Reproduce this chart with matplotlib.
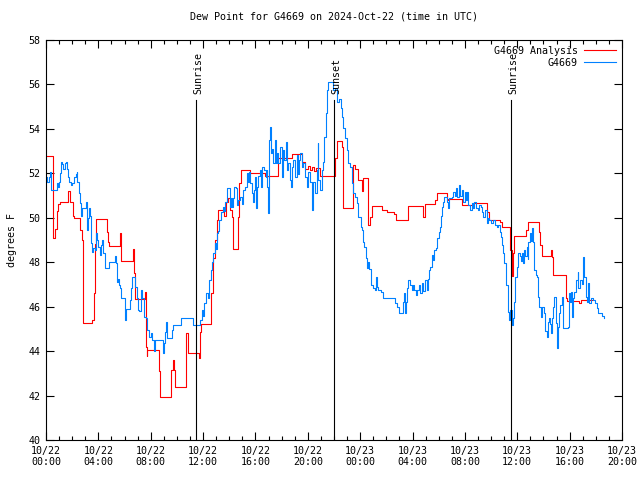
import matplotlib
matplotlib.use("Agg")
import matplotlib.pyplot as plt
from matplotlib.ticker import MultipleLocator

# hours since 2024-10-22 00:00 UTC
analysis_hours = [
    0.00, 0.50, 0.57, 0.69, 0.84, 0.92, 1.07, 1.68, 1.83, 2.06, 2.14, 2.60, 2.75,
    2.85, 3.54, 3.67, 3.72, 3.80, 4.64, 4.74, 4.81, 5.65, 5.75, 6.65, 6.72, 6.78,
    7.54, 7.62, 7.69, 7.74, 8.63, 8.71, 9.55, 9.70, 9.78, 9.85, 10.69, 10.85,
    11.69, 11.76, 11.82, 12.60, 12.73, 12.91, 13.04, 13.16, 13.60, 13.75, 13.93,
    14.06, 14.19, 14.26, 14.31, 14.69, 14.77, 14.87, 15.62, 16.73, 17.72, 18.79,
    19.56, 19.78, 20.01, 20.17, 20.32, 20.47, 20.63, 20.93, 22.08, 22.21, 22.61,
    22.69, 23.45, 23.60, 23.83, 24.14, 24.25, 24.60, 24.75, 24.88, 25.67, 26.03,
    26.58, 26.71, 27.68, 28.78, 28.95, 29.72, 29.89, 30.65, 30.73, 31.80, 32.64,
    33.66, 33.84, 34.68, 34.81, 35.48, 35.57, 35.70, 35.75, 36.64, 36.84, 37.66,
    37.74, 37.87, 38.55, 38.68, 38.71, 39.70, 39.78, 40.72, 40.87, 41.71,
]
analysis_dewpt = [
    52.78, 50.0, 49.1, 49.5, 50.3, 50.6, 50.7, 51.2, 50.7, 50.1, 50.0, 49.45, 49.0,
    45.26, 45.4, 46.6, 48.8, 49.95, 49.35, 48.9, 48.75, 49.3, 48.05, 48.6, 47.5, 46.35,
    46.65, 44.2, 43.8, 44.05, 43.1, 41.95, 43.15, 43.6, 43.15, 42.4, 44.8, 43.9,
    43.7, 44.85, 45.2, 46.6, 48.2, 49.0, 49.9, 50.35, 50.1, 50.7, 50.9,
    50.35, 50.05, 49.45, 48.6, 50.05, 51.55, 52.15, 52.0, 51.87, 52.67, 52.87,
    52.5, 52.2, 52.35, 52.15, 52.3, 52.1, 52.25, 51.9, 52.7, 53.47, 53.2,
    50.42, 52.37, 52.2, 51.7, 51.2, 51.8, 49.67, 50.05, 50.54, 50.35, 50.27,
    50.17, 49.9, 50.54, 50.05, 50.6, 50.8, 51.1, 50.8, 50.85, 50.57, 50.65,
    50.27, 49.9, 49.8, 49.6, 48.55, 47.4, 48.4, 49.2, 49.45, 49.82, 49.37,
    48.77, 48.28, 48.55, 48.25, 47.42, 46.37, 46.25, 46.18, 46.3, 46.3,
]

obs_hours = [
    0.05, 0.11, 0.23, 0.31, 0.40, 0.82, 0.92, 0.99, 1.07, 1.17, 1.25, 1.32, 1.43,
    1.50, 1.58, 1.68, 1.76, 1.89, 2.01, 2.14, 2.27, 2.35, 2.39, 2.50, 2.60, 2.65,
    2.77, 3.03, 3.11, 3.15, 3.21, 3.28, 3.36, 3.41, 3.49, 3.61, 3.72, 3.80, 3.87,
    3.97, 4.13, 4.22, 4.30, 4.38, 4.48, 4.81, 5.25, 5.32, 5.40, 5.50, 5.58, 5.65,
    5.75, 6.01, 6.09, 6.42, 6.52, 6.59, 6.78, 6.93, 7.03, 7.10, 7.23, 7.36, 7.49,
    7.62, 7.74, 7.87, 8.00, 8.12, 8.25, 8.33, 8.91, 9.01, 9.09, 9.17, 9.27, 9.60,
    9.72, 10.29, 11.21, 11.76, 11.89, 11.97, 12.07, 12.22, 12.34, 12.47, 12.58,
    12.66, 12.78, 12.91, 12.99, 13.09, 13.16, 13.24, 13.35, 13.50, 13.60, 13.67,
    13.80, 14.06, 14.13, 14.21, 14.26, 14.36, 14.51, 14.61, 14.69, 14.82, 14.95,
    15.07, 15.20, 15.33, 15.41, 15.48, 15.58, 15.71, 15.79, 15.89, 15.97, 16.04,
    16.10, 16.22, 16.35, 16.42, 16.52, 16.65, 16.78, 16.86, 16.92, 16.98, 17.04,
    17.11, 17.19, 17.26, 17.36, 17.49, 17.57, 17.62, 17.75, 17.88, 18.00, 18.13,
    18.20, 18.31, 18.39, 18.51, 18.64, 18.72, 18.82, 18.89, 19.02, 19.15, 19.23,
    19.33, 19.40, 19.53, 19.66, 19.78, 19.92, 20.04, 20.17, 20.30, 20.34, 20.42,
    20.55, 20.68, 20.76, 20.80, 20.93, 21.06, 21.18, 21.26, 21.37, 21.44, 21.52,
    21.87, 21.95, 22.08, 22.21, 22.38, 22.54, 22.63, 22.71, 22.84, 22.97, 23.09,
    23.22, 23.35, 23.47, 23.60, 23.73, 23.86, 24.06, 24.12, 24.19, 24.29, 24.45,
    24.54, 24.62, 24.70, 24.80, 24.96, 25.13, 25.21, 25.31, 25.39, 25.57, 25.72,
    26.66, 26.84, 26.99, 27.25, 27.35, 27.42, 27.50, 27.60, 27.68, 27.81, 27.94,
    28.01, 28.11, 28.26, 28.36, 28.47, 28.57, 28.70, 28.82, 28.95, 29.08, 29.16,
    29.23, 29.33, 29.46, 29.54, 29.64, 29.79, 29.89, 30.04, 30.10, 30.15, 30.23,
    30.30, 30.40, 30.66, 30.73, 30.81, 30.99, 31.11, 31.22, 31.32, 31.42, 31.53,
    31.63, 31.76, 31.88, 32.01, 32.08, 32.18, 32.21, 32.39, 32.52, 32.64, 32.72,
    32.83, 32.98, 33.08, 33.23, 33.33, 33.41, 33.54, 33.66, 33.74, 33.84, 33.99,
    34.17, 34.30, 34.43, 34.55, 34.68, 34.76, 34.81, 34.93, 35.01, 35.12, 35.16,
    35.27, 35.32, 35.39, 35.47, 35.58, 35.65, 35.73, 35.83, 35.96, 36.08, 36.21,
    36.29, 36.39, 36.46, 36.54, 36.61, 36.72, 36.80, 36.84, 36.97, 37.05, 37.10,
    37.18, 37.22, 37.30, 37.41, 37.51, 37.61, 37.66, 37.81, 37.91, 38.02, 38.12,
    38.25, 38.33, 38.43, 38.50, 38.58, 38.68, 38.75, 38.83, 38.94, 39.01, 39.09,
    39.19, 39.26, 39.39, 39.52, 39.85, 39.95, 40.03, 40.10, 40.20, 40.28, 40.36,
    40.46, 40.62, 40.66, 40.79, 40.92, 41.04, 41.12, 41.23, 41.33, 41.43, 41.51,
    41.63, 41.81, 41.94, 42.07, 42.19, 42.45, 42.65,
]
obs_dewpt = [
    51.85, 51.6, 51.85, 52.07, 51.25, 51.55, 51.4, 51.6, 52.0, 52.52, 52.4, 52.2, 52.45,
    52.5, 52.2, 51.85, 51.6, 51.47, 51.55, 51.85, 51.95, 52.07, 51.6, 51.1, 50.65, 50.1,
    50.42, 50.73, 50.42, 49.45, 50.0, 50.42, 50.1, 48.85, 48.47, 48.65, 48.55, 49.3, 49.0,
    48.7, 48.33, 48.78, 49.0, 48.4, 47.72, 48.02, 48.3, 47.95, 47.12, 47.25, 46.97, 46.82,
    46.37, 45.4, 45.9, 46.3, 46.82, 47.35, 46.9, 46.37, 45.85, 45.8, 46.75, 46.37, 45.55,
    45.47, 44.95, 44.65, 44.8, 44.5, 44.0, 44.5, 43.9, 44.35, 44.87, 45.32, 44.57, 44.95,
    45.17, 45.47, 45.17, 45.4, 45.85, 45.6, 46.15, 46.6, 46.4, 47.2, 47.65,
    48.02, 48.4, 48.85, 48.6, 49.3, 49.4, 49.9, 50.27, 50.5, 50.3, 50.73,
    51.33, 50.5, 50.87, 50.5, 50.87, 51.4, 51.35, 50.57, 50.8, 50.95, 50.6,
    51.25, 51.4, 52.0, 51.6, 52.07, 51.55, 51.1, 50.73, 51.25, 51.85, 50.42,
    51.4, 51.9, 52.15, 51.4, 52.3, 52.15, 51.85, 52.15, 51.4, 50.2, 53.5,
    54.1, 52.9, 53.1, 52.45, 53.5, 52.45, 52.9, 52.45, 53.2, 51.85, 53.05,
    52.6, 53.42, 52.15, 52.45, 51.7, 51.4, 52.3, 52.6, 51.85, 52.82, 51.95,
    52.6, 52.9, 52.3, 52.45, 51.85, 51.4, 52.05, 51.6, 50.95, 50.35, 51.6,
    51.1, 52.15, 53.35, 51.7, 51.25, 52.15, 52.5, 53.65, 54.7, 55.75, 56.12,
    56.12, 55.75, 55.82, 55.22, 55.35, 54.92, 54.55, 54.03, 53.58, 53.05, 52.45,
    52.3, 51.55, 51.1, 50.95, 50.65, 50.05, 49.6, 49.45, 48.92, 48.7, 48.17,
    47.72, 48.0, 47.7, 46.97, 46.82, 46.75, 47.35, 46.9, 46.75, 46.67, 46.37,
    46.15, 45.97, 45.7, 46.22, 46.6, 45.7, 46.2, 46.82, 47.2, 46.97, 46.75,
    46.97, 46.75, 46.52, 46.75, 46.97, 46.62, 47.07, 46.7, 47.2, 46.75, 47.25,
    47.65, 47.8, 48.33, 48.1, 48.55, 48.62, 49.07, 49.37, 49.6, 50.1, 50.5,
    50.73, 50.95, 50.73, 50.42, 50.87, 50.95, 51.17, 51.0, 51.33, 50.95, 51.47,
    51.0, 51.25, 50.73, 51.17, 50.8, 51.17, 50.57, 50.35, 50.65, 50.42, 50.73,
    50.42, 50.35, 50.57, 50.5, 50.27, 50.05, 50.35, 49.78, 49.98, 49.9, 49.75,
    49.9, 49.67, 49.6, 49.67, 49.37, 49.15, 48.77, 48.4, 47.95, 47.65, 46.97,
    46.15, 45.77, 45.4, 45.85, 45.17, 45.5, 46.22, 47.35, 47.8, 48.4, 48.3,
    48.05, 48.4, 47.95, 48.55, 48.3, 48.7, 48.15, 48.92, 49.3, 48.95, 49.52,
    49.3, 48.92, 47.65, 47.42, 47.35, 46.45, 46.0, 45.55, 46.0, 45.7, 44.9,
    44.65, 45.32, 45.5, 45.2, 44.8, 45.5, 46.0, 46.45, 45.25, 44.12, 45.1,
    45.7, 46.07, 46.45, 45.02, 45.1, 46.6, 46.2, 46.67, 45.55, 46.4, 46.67,
    47.2, 47.57, 46.82, 47.2, 47.0, 48.25, 47.35, 46.45, 46.2, 47.05, 46.15,
    46.4, 46.3, 46.15, 45.92, 45.7, 45.57, 45.47,
]

sun_events = ["Sunrise", "Sunset", "Sunrise"]
sun_hours = [11.46, 22.0, 35.52]

tick_hours = [0, 4, 8, 12, 16, 20, 24, 28, 32, 36, 40, 44]
tick_labels = ["10/22\n00:00", "10/22\n04:00", "10/22\n08:00", "10/22\n12:00",
               "10/22\n16:00", "10/22\n20:00", "10/23\n00:00", "10/23\n04:00",
               "10/23\n08:00", "10/23\n12:00", "10/23\n16:00", "10/23\n20:00"]

FONT = "DejaVu Sans Mono"
FS = 7.2
LW = 0.8
plt.rcParams["font.family"] = FONT
plt.rcParams["font.size"] = FS

fig = plt.figure(figsize=(6.4, 4.8), dpi=100)
ax = fig.add_axes([46 / 640, 40 / 480, 576 / 640, 400 / 480])

ax.plot(analysis_hours, analysis_dewpt, color="#ff0000", linewidth=LW,
        drawstyle="steps-post", label="G4669 Analysis")
ax.plot(obs_hours, obs_dewpt, color="#0080ff", linewidth=LW,
        drawstyle="steps-post", label="G4669")

for name, h in zip(sun_events, sun_hours):
    ax.plot([h, h], [40, 55.3], color="black", linewidth=LW)
    ax.text(h + 0.15, 55.55, name, rotation=90, ha="center", va="bottom",
            fontsize=FS)

ax.set_xlim(0, 44)
ax.set_ylim(40, 58)
ax.set_xticks(tick_hours)
ax.set_xticklabels(tick_labels)
ax.xaxis.set_minor_locator(MultipleLocator(1))
ax.yaxis.set_major_locator(MultipleLocator(2))
ax.tick_params(axis="both", which="major", direction="in", length=6, width=LW,
               top=True, right=True, labelsize=FS, pad=4)
ax.tick_params(axis="x", which="minor", direction="in", length=3, width=LW,
               top=True)
for s in ax.spines.values():
    s.set_linewidth(LW)

ax.set_title("Dew Point for G4669 on 2024-Oct-22 (time in UTC)", fontsize=FS, pad=15)
ax.set_ylabel("degrees F", fontsize=FS, labelpad=8)

ax.legend(loc="upper right", markerfirst=False, frameon=False, fontsize=FS,
          handlelength=3.2, handletextpad=0.6, labelspacing=0.2,
          borderaxespad=0.2)

fig.savefig("out.png", dpi=100)
